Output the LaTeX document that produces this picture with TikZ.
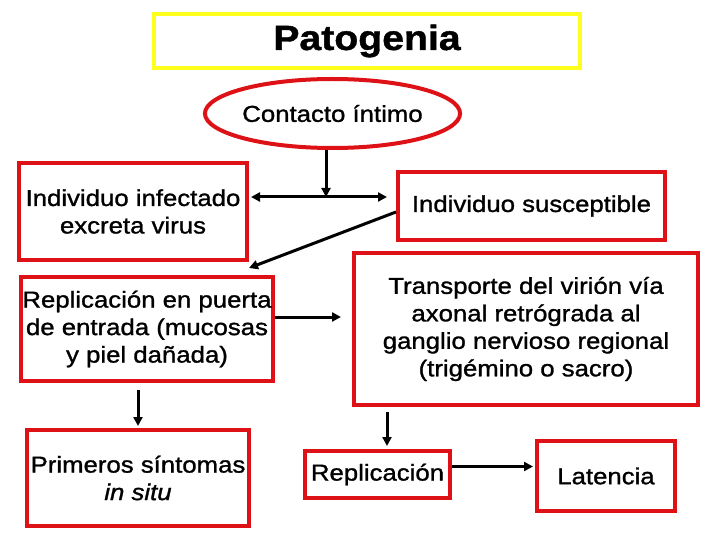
\documentclass[tikz,border=0pt]{standalone}
\usepackage{fontspec}
\setmainfont{Liberation Sans}[FakeStretch=1.12, FakeBold=1.2]
\usetikzlibrary{arrows.meta,positioning,shapes.geometric,calc}
\definecolor{boxred}{RGB}{222,18,22}
\definecolor{titleyellow}{RGB}{255,255,30}

\begin{document}
\begin{tikzpicture}[
x=1bp, y=-1bp,
box/.style={rectangle, draw=boxred, line width=4bp, inner sep=0pt, align=center, font=\fontsize{23bp}{27.5bp}\selectfont},
link/.style={line width=3bp, -{Triangle[length=9bp,width=9bp]}}
]
\useasboundingbox[fill=white] (0,0) rectangle (720,540);
% title and start
\node[box, draw=titleyellow, minimum width=426bp, minimum height=54bp, font=\fontsize{35bp}{40bp}\selectfont\bfseries] (titulo) at (367,41) {Patogenia};
\node[box, ellipse, minimum width=215bp, minimum height=69bp] (contacto) at (332.5,113.5) {Contacto íntimo};
% boxes
\node[box, minimum width=228bp, minimum height=97bp] (infectado) at (133,211.5) {Individuo infectado\\excreta virus};
\node[box, minimum width=267bp, minimum height=68bp] (susceptible) at (531.5,206) {Individuo susceptible};
\node[box, minimum width=252bp, minimum height=104bp] (puerta) at (147,329) {Replicación en puerta\\de entrada (mucosas\\y piel dañada)};
\node[box, minimum width=344bp, minimum height=152bp] (transporte) at (526,329) {Transporte del virión vía\\axonal retrógrada al\\ganglio nervioso regional\\(trigémino o sacro)};
\node[box, minimum width=222bp, minimum height=96bp] (sintomas) at (138,478) {Primeros síntomas\\\textit{in situ}};
\node[box, minimum width=145bp, minimum height=47bp] (replicacion) at (377.5,474.5) {Replicación};
\node[box, minimum width=138bp, minimum height=70bp] (latencia) at (606,476) {Latencia};
% connectors
\coordinate (cruce) at (326,197);
\coordinate (bajada) at (387,0);
\draw[link] (contacto.south -| cruce) -- (cruce);
\draw[link, {Triangle[length=9bp,width=9bp]}-{Triangle[length=9bp,width=9bp]}] ([xshift=2bp]infectado.east |- cruce) -- ([xshift=-9bp]susceptible.west |- cruce);
\draw[link] ([yshift=-6bp]susceptible.west) -- ([shift={(-26,-7)}]puerta.north east);
\draw[link] ([yshift=12bp]puerta.east) -- ([xshift=-11bp,yshift=12bp]transporte.west);
\draw[link] ([yshift=-7bp]puerta.south -| sintomas.north) -- ([yshift=2bp]sintomas.north);
\draw[link] ([yshift=-5bp]transporte.south -| bajada) -- ([yshift=3bp]replicacion.north -| bajada);
\draw[link] ([yshift=8bp]replicacion.east) -- ([yshift=8bp,xshift=-2bp]replicacion.east -| latencia.west);
\end{tikzpicture}
\end{document}
